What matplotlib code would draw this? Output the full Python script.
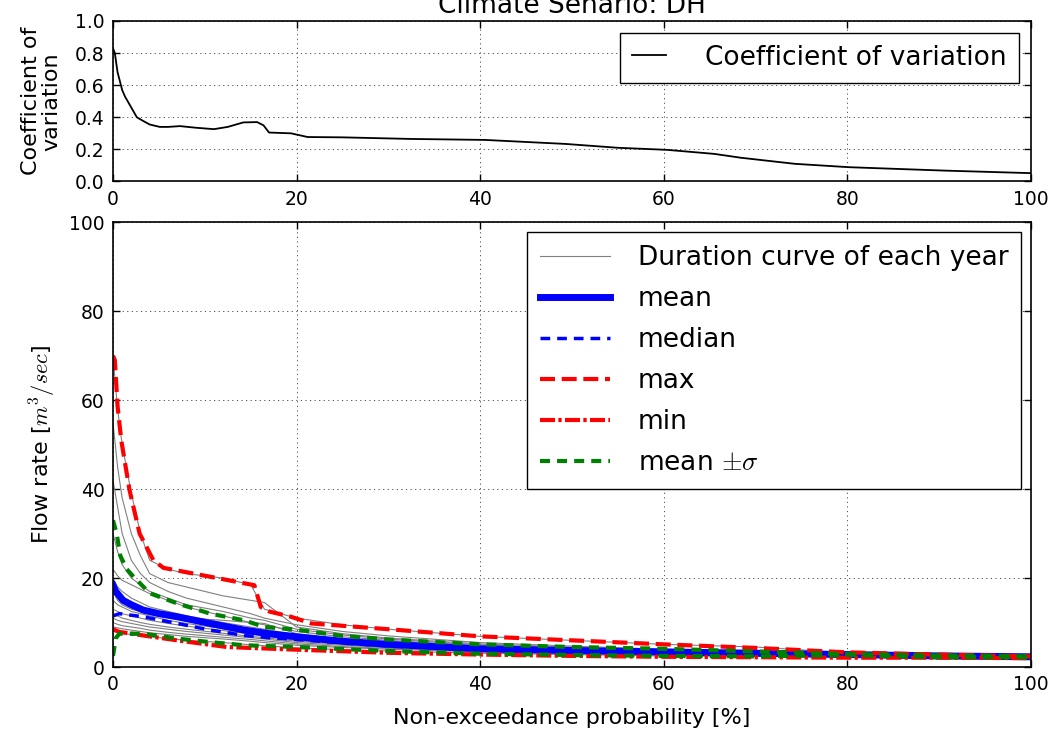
import numpy as np
import matplotlib
matplotlib.use("Agg")
import matplotlib.pyplot as plt

plt.rcParams['mathtext.fontset'] = 'cm'
plt.rcParams['font.family'] = 'DejaVu Sans'
plt.rcParams['xtick.direction'] = 'in'
plt.rcParams['ytick.direction'] = 'in'
plt.rcParams['xtick.top'] = True
plt.rcParams['ytick.right'] = True

# --- coefficient of variation (top panel) ---
cv_x = [0, 0.2, 0.5, 1, 1.3, 2, 2.6, 3.2, 4, 5.1, 6, 7.3, 9, 11, 12.5, 14.2, 15.7, 16.4,
        17, 19.4, 21.2, 25, 32.5, 40.5, 49.3, 55, 60.4, 65.5, 68.4, 74.3, 80.2, 90.5, 100]
cv_y = [0.83, 0.80, 0.68, 0.57, 0.53, 0.46, 0.40, 0.38, 0.355, 0.34, 0.34, 0.345, 0.335, 0.326, 0.34,
        0.368, 0.37, 0.35, 0.305, 0.30, 0.277, 0.275, 0.265, 0.259, 0.234, 0.21, 0.197, 0.172,
        0.148, 0.11, 0.089, 0.068, 0.052]

# --- duration curves of each year (bottom panel) ---
year_x = [0, 0.5, 1, 2, 3, 4, 6, 8, 12, 15, 16.5, 20, 25, 30, 40, 50, 60, 70, 80, 90, 100]
years = [
    [70, 58, 50, 39, 30, 24, 22, 21, 20, 18.5, 13, 11, 9.5, 8.5, 6.9, 6.0, 5.1, 4.5, 3.2, 2.8, 2.4],
    [55, 45, 38, 30, 25, 21, 19, 18, 16, 15, 14.5, 9, 7.5, 6.5, 5.2, 4.5, 3.8, 3.3, 2.9, 2.6, 2.3],
    [42, 36, 30, 24, 21, 19, 17, 15.5, 13.5, 12, 11, 9.5, 8, 7, 5.5, 4.7, 4.0, 3.4, 2.9, 2.6, 2.3],
    [30, 26, 23, 20, 18.5, 17, 15.5, 14, 12.5, 11, 10.5, 8.5, 7.2, 6.3, 5.0, 4.3, 3.7, 3.2, 2.8, 2.5, 2.3],
    [22, 20.5, 19.5, 18.5, 17.5, 16.5, 15, 13.5, 11.5, 10, 9.5, 8, 6.8, 6.0, 4.8, 4.1, 3.6, 3.1, 2.8, 2.5, 2.2],
    [20, 18, 17, 15.5, 14.5, 13.5, 12.5, 11.5, 10, 9, 8.5, 7.2, 6.3, 5.6, 4.6, 4.0, 3.5, 3.0, 2.7, 2.5, 2.2],
    [19, 16, 15, 14, 13, 12.5, 11.5, 10.5, 9.2, 8.3, 7.8, 6.8, 5.9, 5.3, 4.4, 3.8, 3.3, 2.9, 2.6, 2.4, 2.2],
    [17, 15, 14, 13, 12.5, 12, 11.5, 11, 10.5, 10, 9.8, 7.5, 6.2, 5.5, 4.5, 3.9, 3.4, 3.0, 2.7, 2.4, 2.2],
    [15, 14, 13.5, 12.5, 12, 11.5, 10.5, 9.8, 8.6, 7.8, 7.4, 6.4, 5.6, 5.0, 4.2, 3.7, 3.2, 2.9, 2.6, 2.4, 2.2],
    [13, 12.5, 12, 11.5, 11, 10.5, 9.8, 9.2, 8.2, 7.4, 7.0, 6.0, 5.3, 4.8, 4.0, 3.5, 3.1, 2.8, 2.5, 2.3, 2.1],
    [12, 11.5, 11, 10.5, 10, 9.6, 9.0, 8.5, 7.6, 6.9, 6.6, 5.8, 5.1, 4.6, 3.9, 3.4, 3.0, 2.7, 2.5, 2.3, 2.1],
    [11, 10.5, 10.2, 9.8, 9.4, 9.0, 8.5, 8.0, 7.2, 6.6, 6.3, 5.5, 4.9, 4.4, 3.7, 3.3, 2.9, 2.6, 2.4, 2.3, 2.1],
    [10, 9.6, 9.3, 9.0, 8.7, 8.3, 7.8, 7.4, 6.7, 6.2, 5.9, 5.2, 4.6, 4.2, 3.5, 3.1, 2.8, 2.6, 2.4, 2.2, 2.1],
    [9, 8.8, 8.6, 8.3, 8.0, 7.7, 7.3, 6.9, 6.3, 5.8, 5.5, 4.9, 4.4, 4.0, 3.4, 3.0, 2.7, 2.5, 2.3, 2.2, 2.0],
    [8, 7.8, 7.6, 7.3, 7.0, 6.8, 6.4, 6.0, 5.5, 5.0, 4.8, 4.3, 3.9, 3.6, 3.1, 2.8, 2.5, 2.4, 2.3, 2.2, 2.0],
]

# --- statistics ---
mean_x = [0, 0.3, 1.1, 2, 3.3, 5, 7, 10.6, 14.3, 17, 20, 25, 30, 40, 50, 60, 70, 80, 90, 100]
mean_y = [18.4, 17, 15, 14, 12.8, 12, 11.3, 9.8, 8.3, 7.5, 6.8, 5.8, 5.1, 4.1, 3.7, 3.4, 3.1, 2.8, 2.5, 2.3]

median_x = [0, 0.7, 3.3, 7, 10.6, 14.3, 17, 20, 30, 40, 60, 80, 100]
median_y = [11.5, 12, 11.3, 9.8, 8.3, 7.1, 6.6, 6.2, 4.7, 3.9, 3.3, 2.8, 2.3]

max_x = [0, 0.2, 0.5, 0.9, 1.8, 2.9, 4.4, 5.5, 10.6, 15.4, 16.1, 17, 19.4, 21.6, 30, 40, 50, 60, 70, 80, 90, 100]
max_y = [70, 69, 58.6, 51, 39.8, 30, 24, 22.3, 20.3, 18.4, 13.5, 12.5, 11.3, 9.8, 8.5, 6.9, 6.0, 5.1, 4.3, 3.3, 2.8, 2.4]

min_x = [0, 0.7, 3.3, 7, 12.4, 20, 30, 40, 50, 60, 70, 80, 90, 100]
min_y = [8.5, 7.9, 7.1, 6.0, 4.5, 3.9, 3.2, 2.8, 2.5, 2.3, 2.2, 2.1, 2.1, 2.0]

upper_x = [0, 0.4, 0.8, 1.5, 2.2, 4, 7, 10.6, 14.3, 16.5, 20, 25, 30, 40, 50, 60, 70, 80, 90, 100]
upper_y = [33, 30, 25, 22, 20.4, 16.6, 14.3, 12, 10.5, 9, 8.4, 7.0, 6.2, 5.1, 4.5, 4.1, 3.5, 2.9, 2.6, 2.4]

lower_x = [0, 0.15, 0.3, 0.7, 3.3, 7, 10.6, 14.3, 20, 30, 40, 50, 60, 70, 80, 90, 100]
lower_y = [2.5, 4.5, 6.5, 7.5, 7.5, 6.4, 5.6, 4.9, 4.5, 3.6, 3.0, 2.7, 2.5, 2.4, 2.7, 2.2, 2.2]

fig = plt.figure(figsize=(10.55, 7.33), dpi=100)
ax1 = fig.add_axes([0.1071, 0.7524, 0.8700, 0.2190])
ax2 = fig.add_axes([0.1071, 0.0900, 0.8700, 0.6067])

grid_style = dict(color='0.3', linestyle=(0, (1.2, 3.5)), lw=0.7)

# top panel
ax1.plot(cv_x, cv_y, color='k', lw=1.3, label='Coefficient of variation')
ax1.set_xlim(0, 100)
ax1.set_ylim(0, 1.0)
ax1.set_yticks([0.0, 0.2, 0.4, 0.6, 0.8, 1.0])
ax1.set_yticklabels(['0.0', '0.2', '0.4', '0.6', '0.8', '1.0'])
ax1.set_ylabel('Coefficient of\nvariation', fontsize=16, labelpad=10, linespacing=1.0)
ax1.set_title('Climate Senario: DH', fontsize=19, pad=6)
ax1.legend(loc='upper right', fontsize=19, handlelength=1.3, handletextpad=1.5,
           borderpad=0.45, fancybox=False, edgecolor='k', framealpha=1,
           borderaxespad=0.45)

# bottom panel
for i, yy in enumerate(years):
    ax2.plot(year_x, yy, color='0.5', lw=0.8,
             label='Duration curve of each year' if i == 0 else None)
ax2.plot(mean_x, mean_y, color='blue', lw=5, label='mean')
ax2.plot(median_x, median_y, color='blue', lw=2.5, dashes=(2.8, 2), label='median')
ax2.plot(max_x, max_y, color='red', lw=3, dashes=(3.6, 1.6), label='max')
ax2.plot(min_x, min_y, color='red', lw=3, dashes=(3.6, 0.8, 0.8, 0.8), label='min')
ax2.plot(upper_x, upper_y, color='green', lw=3, dashes=(2.4, 1.7), label=r'mean $\pm\sigma$')
ax2.plot(lower_x, lower_y, color='green', lw=3, dashes=(2.4, 1.7))
ax2.set_xlim(0, 100)
ax2.set_ylim(0, 100)
ax2.set_xlabel('Non-exceedance probability [%]', fontsize=16, labelpad=10)
ax2.set_ylabel(r'Flow rate [$m^3/sec$]', fontsize=16, labelpad=8)
ax2.legend(loc='upper right', fontsize=19, handlelength=2.65, handletextpad=1.05,
           labelspacing=0.57, borderpad=0.5, fancybox=False, edgecolor='k',
           framealpha=1, borderaxespad=0.36)

for ax in (ax1, ax2):
    ax.set_xticks([0, 20, 40, 60, 80, 100])
    ax.tick_params(labelsize=13.5, length=5, width=1, pad=6)
    ax.grid(True, **grid_style)
    for s in ax.spines.values():
        s.set_linewidth(1.2)

fig.savefig('out.png', dpi=100)
